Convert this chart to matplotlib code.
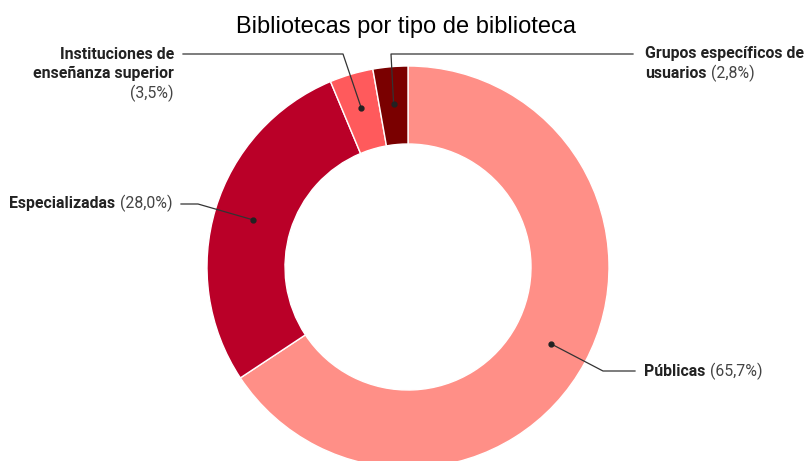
import matplotlib
matplotlib.use("Agg")
import matplotlib.pyplot as plt
import numpy as np

# Data
categories = ["Públicas", "Especializadas", "Instituciones de\nenseñanza superior", "Grupos específicos de\nusuarios"]
shares = [65.7, 28.0, 3.5, 2.8]
share_labels = ["(65,7%)", "(28,0%)", "(3,5%)", "(2,8%)"]
colors = ["#FF8F87", "#BA0028", "#FF5A5C", "#7A0000"]
title = "Bibliotecas por tipo de biblioteca"

W, H = 806, 461
cx, cy = 408, 267      # donut centre in pixels (y down)
r_out = 201
ring = 78

fig = plt.figure(figsize=(W / 100, H / 100), dpi=100)
ax = fig.add_axes([0, 0, 1, 1])

# y axis is flipped, so counterclock=True draws clockwise on screen
wedges, _ = ax.pie(shares, colors=colors, center=(cx, cy), radius=r_out,
                   startangle=-90, counterclock=True,
                   wedgeprops=dict(width=ring, edgecolor="white", linewidth=1))
ax.set_xlim(0, W)
ax.set_ylim(H, 0)
ax.set_aspect("equal")
ax.axis("off")

ax.text(406, 33, title, ha="center", va="baseline",
        fontsize=17, family="Liberation Sans", color="#000000")


def dot_pos(w, r=162):
    th = np.deg2rad((w.theta1 + w.theta2) / 2)
    return cx + r * np.cos(th), cy + r * np.sin(th)


line_kw = dict(color="#333333", lw=0.9)
name_kw = dict(fontsize=11.4, family="Roboto", fontweight="bold", color="#222222", va="baseline")
pct_kw = dict(fontsize=11.4, family="Roboto", color="#444444", va="baseline")
gap = 5

fig.canvas.draw()
renderer = fig.canvas.get_renderer()


def width_px(t):
    return t.get_window_extent(renderer=renderer).width

# Públicas
dx, dy = dot_pos(wedges[0])
ax.plot([dx, 603, 635], [dy, 371, 371], **line_kw)
ax.plot(dx, dy, "o", color="#222222", ms=3.5)
t = ax.text(644, 376, categories[0], ha="left", **name_kw)
ax.text(644 + width_px(t) + gap, 376, share_labels[0], ha="left", **pct_kw)

# Especializadas
dx, dy = dot_pos(wedges[1])
ax.plot([181, 198, dx], [204, 204, dy], **line_kw)
ax.plot(dx, dy, "o", color="#222222", ms=3.5)
t = ax.text(173, 208, share_labels[1], ha="right", **pct_kw)
ax.text(173 - width_px(t) - gap, 208, categories[1], ha="right", **name_kw)

# Instituciones de enseñanza superior
dx, dy = dot_pos(wedges[2], 166)
ax.plot([183, 343, dx], [54, 54, dy], **line_kw)
ax.plot(dx, dy, "o", color="#222222", ms=3.5)
for i, line in enumerate(categories[2].split("\n")):
    ax.text(174, 59 + 19 * i, line, ha="right", **name_kw)
ax.text(174, 98, share_labels[2], ha="right", **pct_kw)

# Grupos específicos de usuarios
dx, dy = dot_pos(wedges[3], 164)
ax.plot([dx, 391, 633], [dy, 54, 54], **line_kw)
ax.plot(dx, dy, "o", color="#222222", ms=3.5)
first, second = categories[3].split("\n")
ax.text(645, 58, first, ha="left", **name_kw)
t = ax.text(645, 78, second, ha="left", **name_kw)
ax.text(645 + width_px(t) + gap, 78, share_labels[3], ha="left", **pct_kw)

fig.savefig("out.png", dpi=100)
